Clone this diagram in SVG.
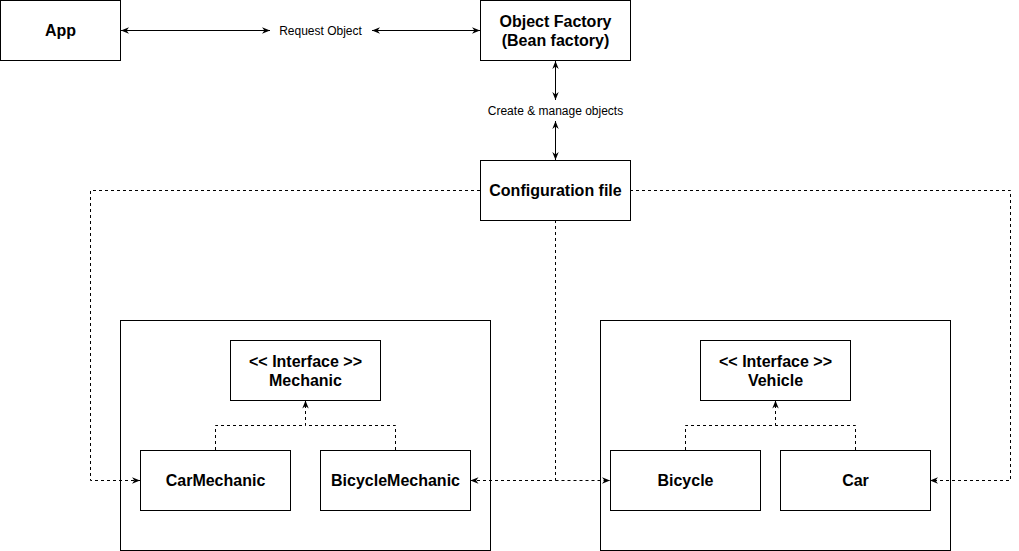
<svg xmlns="http://www.w3.org/2000/svg" width="1019" height="551" viewBox="0 0 1019 551">
<style>
.box{fill:#fff;stroke:#000;stroke-width:1}
.cont{fill:none;stroke:#000;stroke-width:1}
.t{font-family:"Liberation Sans",Arial,sans-serif;font-size:16px;font-weight:bold;fill:#000;text-anchor:middle}
.l{font-family:"Liberation Sans",Arial,sans-serif;font-size:12px;fill:#000;text-anchor:middle}
.c{fill:none;stroke:#000;stroke-width:1}
.d{fill:none;stroke:#000;stroke-width:1;stroke-dasharray:3 3}
</style>
<defs>
<marker id="ae" viewBox="0 0 10 8" refX="10" refY="4" markerWidth="8" markerHeight="7" orient="auto" markerUnits="userSpaceOnUse">
<path d="M0,0 L10,4 L0,8 L3,4 z" fill="#000"/>
</marker>
<marker id="as" viewBox="0 0 10 8" refX="10" refY="4" markerWidth="8" markerHeight="7" orient="auto-start-reverse" markerUnits="userSpaceOnUse">
<path d="M0,0 L10,4 L0,8 L3,4 z" fill="#000"/>
</marker>
</defs>
<g id="connectors">
<path class="c" d="M121,30.5 H270" marker-start="url(#as)" marker-end="url(#ae)"/>
<text class="l" x="320.5" y="34.5">Request Object</text>
<path class="c" d="M372,30.5 H480" marker-start="url(#as)" marker-end="url(#ae)"/>
<path class="c" d="M555.5,61 V100" marker-start="url(#as)" marker-end="url(#ae)"/>
<text class="l" x="555.5" y="114.5">Create &amp; manage objects</text>
<path class="c" d="M555.5,121 V160" marker-start="url(#as)" marker-end="url(#ae)"/>
<path class="d" d="M480,190.5 H90.5 V480.5 H140" marker-end="url(#ae)"/>
<path class="d" d="M630,190.5 H1010.5 V480.5 H930" marker-end="url(#ae)"/>
<path class="d" d="M555.5,220 V480.5 H470.5" marker-end="url(#ae)"/>
<path class="d" d="M555.5,480.5 H610" marker-end="url(#ae)"/>
<path class="d" d="M215.5,450 V425.5 H305.5 V400.5" marker-end="url(#ae)"/>
<path class="d" d="M395.5,450 V425.5 H305.5"/>
<path class="d" d="M685.5,450 V425.5 H775.5 V400.5" marker-end="url(#ae)"/>
<path class="d" d="M855.5,450 V425.5 H775.5"/>
</g>
<g id="app"><rect class="box" x="0.5" y="0.5" width="120" height="60"/><text class="t" x="60.5" y="36">App</text></g>
<g id="factory"><rect class="box" x="480.5" y="0.5" width="150" height="60"/><text class="t" x="555.5" y="27">Object Factory</text><text class="t" x="555.5" y="46">(Bean factory)</text></g>
<g id="config"><rect class="box" x="480.5" y="160.5" width="150" height="60"/><text class="t" x="555.5" y="196">Configuration file</text></g>
<g id="mechanic-group"><rect class="cont" x="120.5" y="320.5" width="370" height="230"/></g>
<g id="vehicle-group"><rect class="cont" x="600.5" y="320.5" width="350" height="230"/></g>
<g id="mechanic"><rect class="box" x="230.5" y="340.5" width="150" height="60"/><text class="t" x="305.5" y="367">&lt;&lt; Interface &gt;&gt;</text><text class="t" x="305.5" y="386">Mechanic</text></g>
<g id="carmechanic"><rect class="box" x="140.5" y="450.5" width="150" height="60"/><text class="t" x="215.5" y="486">CarMechanic</text></g>
<g id="bicyclemechanic"><rect class="box" x="320.5" y="450.5" width="150" height="60"/><text class="t" x="395.5" y="486">BicycleMechanic</text></g>
<g id="vehicle"><rect class="box" x="700.5" y="340.5" width="150" height="60"/><text class="t" x="775.5" y="367">&lt;&lt; Interface &gt;&gt;</text><text class="t" x="775.5" y="386">Vehicle</text></g>
<g id="bicycle"><rect class="box" x="610.5" y="450.5" width="150" height="60"/><text class="t" x="685.5" y="486">Bicycle</text></g>
<g id="car"><rect class="box" x="780.5" y="450.5" width="150" height="60"/><text class="t" x="855.5" y="486">Car</text></g>
</svg>
